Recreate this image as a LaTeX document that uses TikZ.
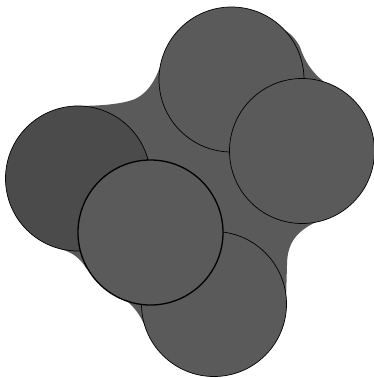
\documentclass[tikz,border=0pt]{standalone}
\definecolor{gmain}{HTML}{5A5A5A}
\definecolor{gdark}{HTML}{4B4B4B}
\begin{document}
\begin{tikzpicture}[x=1pt,y=-1pt,
  disc/.style={circle,draw=black,line width=0.7pt,fill=gmain,minimum size=145pt,inner sep=0pt},
  front/.style={disc,line width=1.3pt}]
\useasboundingbox (0,0) rectangle (373,378);
\fill[gmain] (60,249) .. controls (72,252) and (80,258) .. (86,268) -- (128,302) .. controls (136,309) and (142,318) .. (147,331) -- (214,304) -- (286,300) -- (287,265) .. controls (287,240) and (300,230) .. (316,222) -- (302,151) -- (323,81) .. controls (312,72) and (305,62) .. (300,47) .. controls (296,39) and (290,33) .. (283,29) -- (232,79) -- (162,60) .. controls (158,75) and (150,92) .. (135,99) .. controls (120,105) and (95,106) .. (72,106) -- (78,178) -- cycle;
\node[disc] (top) at (231.5,79.5) {};
\node[disc] (right) at (302,151) {};
\node[disc,fill=gdark] (left) at (78,178.5) {};
\node[disc] (bottom) at (214,304) {};
\node[front] (fr) at (150.5,232.5) {};
\end{tikzpicture}
\end{document}
